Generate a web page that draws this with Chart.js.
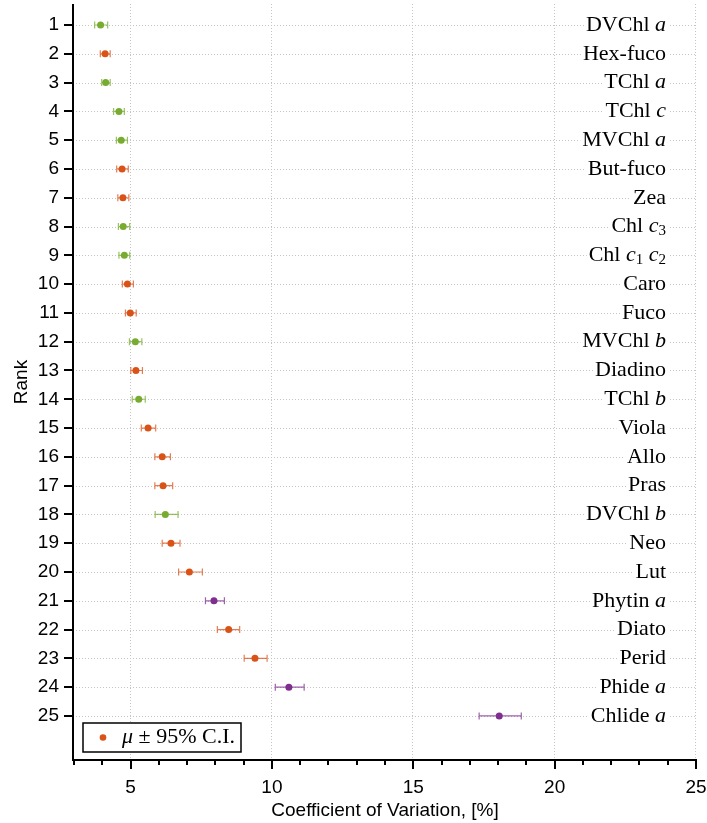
<!DOCTYPE html>
<html>
<head>
<meta charset="utf-8">
<script src="https://cdn.jsdelivr.net/npm/chart.js@4.4.1/dist/chart.umd.min.js"></script>
<style>
  html, body { margin: 0; padding: 0; background: #fff; overflow: hidden; }
  #wrap { position: relative; width: 707px; height: 823px; }
  #wrap canvas { position: absolute; left: 0; top: 0; display: block; }
</style>
</head>
<body>
<div id="wrap">
  <canvas id="gridLayer" width="707" height="823"></canvas>
  <canvas id="cvChart" width="707" height="823"></canvas>
  <canvas id="axisLayer" width="707" height="823"></canvas>
</div>
<script>
// Ranking dos pigmentos pelo coeficiente de variação (média ± IC 95%)

const pigments = ['DVChl $a$', 'Hex-fuco', 'TChl $a$', 'TChl $c$', 'MVChl $a$', 'But-fuco', 'Zea', 'Chl $c_3$', 'Chl $c_1$ $c_2$', 'Caro',
    'Fuco', 'MVChl $b$', 'Diadino', 'TChl $b$', 'Viola', 'Allo', 'Pras', 'DVChl $b$', 'Neo', 'Lut',
    'Phytin $a$', 'Diato', 'Perid', 'Phide $a$', 'Chlide $a$'];
const ranks = [1, 2, 3, 4, 5, 6, 7, 8, 9, 10, 11, 12, 13, 14, 15, 16, 17, 18, 19, 20, 21, 22, 23, 24, 25];
const pigClass = ['chl', 'car', 'chl', 'chl', 'chl', 'car', 'car', 'chl', 'chl', 'car',
    'car', 'chl', 'car', 'chl', 'car', 'car', 'car', 'chl', 'car', 'car',
    'deg', 'car', 'car', 'deg', 'deg'];
const cvMean = [3.94, 4.10, 4.12, 4.59, 4.67, 4.70, 4.73, 4.74, 4.78, 4.89,
    4.99, 5.17, 5.19, 5.29, 5.62, 6.12, 6.15, 6.23, 6.43, 7.08,
    7.95, 8.47, 9.40, 10.60, 18.04];
const ciLow = [3.73, 3.93, 3.98, 4.40, 4.50, 4.51, 4.55, 4.57, 4.59, 4.71,
    4.82, 4.96, 5.01, 5.06, 5.38, 5.86, 5.86, 5.87, 6.12, 6.70,
    7.65, 8.07, 9.02, 10.12, 17.33];
const ciHigh = [4.19, 4.28, 4.28, 4.78, 4.89, 4.92, 4.94, 4.97, 4.97, 5.10,
    5.20, 5.40, 5.42, 5.52, 5.89, 6.41, 6.49, 6.68, 6.75, 7.54,
    8.32, 8.86, 9.83, 11.14, 18.82];
const xTicks = [3, 4, 5, 6, 7, 8, 9, 10, 11, 12, 13, 14, 15, 16, 17, 18, 19, 20, 21, 22, 23, 24, 25];

const classColors = { chl: '#77ac30', car: '#d95319', deg: '#7e2f8e' };

const hexToRgba = (hex, alpha) => {
    const r = parseInt(hex.slice(1, 3), 16);
    const g = parseInt(hex.slice(3, 5), 16);
    const b = parseInt(hex.slice(5, 7), 16);
    return "rgba(" + r + ", " + g + ", " + b + ", " + alpha + ")";
};

const SERIF = '"Liberation Serif", "DejaVu Serif", serif';
const segFont = { n: '22px ' + SERIF, i: 'italic 22px ' + SERIF, s: '15px ' + SERIF };

// $...$ = trecho matemático (itálico), _d = subscrito
const parseLabel = (str) => {
    const segs = [];
    str.split('$').forEach((part, k) => {
        if (!part) return;
        if (k % 2 === 0) { segs.push({ t: part, f: 'n' }); return; }
        for (let i = 0; i < part.length; i++) {
            if (part[i] === '_') { segs.push({ t: part[i + 1], f: 's' }); i++; }
            else segs.push({ t: part[i], f: 'i' });
        }
    });
    return segs;
};

const drawRich = (ctx, segs, xRight, yMid, bg) => {
    let w = 0;
    segs.forEach(s => { ctx.font = segFont[s.f]; s.w = ctx.measureText(s.t).width; w += s.w; });
    let x = xRight - w;
    if (bg) {
        ctx.fillStyle = '#fff';
        ctx.fillRect(x - 2, yMid - 10, w + 4, 20);
    }
    ctx.fillStyle = '#000';
    ctx.textBaseline = 'middle';
    ctx.textAlign = 'left';
    segs.forEach(s => {
        ctx.font = segFont[s.f];
        ctx.fillText(s.t, x, s.f === 's' ? yMid + 5 : yMid);
        x += s.w;
    });
};

// grade pontilhada (camada de baixo)
const drawGridLayer = (chart) => {
    const g = document.getElementById('gridLayer').getContext('2d');
    const { chartArea: ca, scales: { x, y } } = chart;
    g.clearRect(0, 0, 707, 823);
    g.fillStyle = '#c4c4c4';
    ranks.forEach(r => {
        const yp = Math.round(y.getPixelForValue(r));
        for (let xx = Math.round(ca.left) + 2; xx < ca.right; xx += 3) g.fillRect(xx, yp, 1, 1);
    });
    xTicks.filter(v => v % 5 === 0).forEach(v => {
        const xp = Math.round(x.getPixelForValue(v)) - 1;
        for (let yy = Math.round(ca.top); yy < ca.bottom - 1; yy += 3) g.fillRect(xp, yy, 1, 1);
    });
};

// eixos e ticks (camada de cima)
const drawAxisLayer = (chart) => {
    const a = document.getElementById('axisLayer').getContext('2d');
    const { chartArea: ca, scales: { x, y } } = chart;
    const left = Math.round(ca.left), bottom = Math.round(ca.bottom), top = Math.round(ca.top);
    a.clearRect(0, 0, 707, 823);
    a.fillStyle = '#000';
    a.fillRect(left - 2, top, 2, bottom - top + 1);
    a.fillRect(left - 2, bottom - 1, Math.round(ca.right) - left + 3, 2);
    ranks.forEach(r => {
        a.fillRect(left - 10, Math.round(y.getPixelForValue(r)) - 1, 8, 2);
    });
    xTicks.forEach(v => {
        a.fillRect(Math.round(x.getPixelForValue(v)) - 1, bottom, 2, v % 5 === 0 ? 9 : 5);
    });
};

const cvDecor = {
    id: 'cvDecor',
    beforeDatasetsDraw(chart) {
        const { ctx, chartArea: ca, scales: { x, y } } = chart;
        ctx.save();
        ranks.forEach((r, i) => {
            drawRich(ctx, parseLabel(pigments[i]), ca.right - 30, y.getPixelForValue(r), true);
        });
        ctx.lineWidth = 1.2;
        ranks.forEach((r, i) => {
            const yp = y.getPixelForValue(r);
            const x1 = x.getPixelForValue(ciLow[i]);
            const x2 = x.getPixelForValue(ciHigh[i]);
            ctx.strokeStyle = hexToRgba(classColors[pigClass[i]], 0.75);
            ctx.beginPath();
            ctx.moveTo(x1, yp); ctx.lineTo(x2, yp);
            ctx.moveTo(x1, yp - 3.5); ctx.lineTo(x1, yp + 3.5);
            ctx.moveTo(x2, yp - 3.5); ctx.lineTo(x2, yp + 3.5);
            ctx.stroke();
        });
        ctx.restore();
    },
    afterDraw(chart) {
        const { ctx, chartArea: ca } = chart;
        // legenda
        ctx.save();
        const bx = Math.round(ca.left) + 9, by = Math.round(ca.bottom) - 37;
        ctx.fillStyle = '#fff';
        ctx.fillRect(bx, by, 158, 29);
        ctx.strokeStyle = '#000';
        ctx.lineWidth = 1.5;
        ctx.strokeRect(bx, by, 158, 29);
        ctx.fillStyle = classColors.car;
        ctx.beginPath();
        ctx.arc(bx + 20, by + 14.5, 3.3, 0, Math.PI * 2);
        ctx.fill();
        drawRich(ctx, [{ t: 'μ', f: 'i' }, { t: ' ± 95% C.I.', f: 'n' }], bx + 152, by + 14.5, false);
        ctx.restore();
        drawGridLayer(chart);
        drawAxisLayer(chart);
    }
};

Chart.defaults.font.family = '"Liberation Sans", Arial, sans-serif';
Chart.defaults.color = '#000';

const cvChart = new Chart(document.getElementById('cvChart').getContext('2d'), {
    type: 'scatter',
    data: {
        datasets: [{
            label: 'μ ± 95% C.I.',
            data: ranks.map((r, i) => ({ x: cvMean[i], y: r })),
            pointRadius: 3.5,
            pointBorderWidth: 0,
            pointBackgroundColor: pigClass.map(c => classColors[c]),
            showLine: false
        }]
    },
    options: {
        responsive: false,
        animation: false,
        layout: { padding: { top: 3, right: 11, left: 0, bottom: 0 } },
        scales: {
            x: {
                type: 'linear', min: 3, max: 25,
                afterBuildTicks: (scale) => { scale.ticks = xTicks.map(v => ({ value: v })); },
                afterFit: (scale) => { scale.height = 63; scale.paddingLeft = 0; scale.paddingRight = 0; },
                ticks: {
                    autoSkip: false, maxRotation: 0, padding: 7,
                    font: { size: 19 },
                    callback: (v) => v % 5 === 0 ? String(v) : ''
                },
                grid: { drawOnChartArea: false, color: 'transparent', tickColor: 'transparent', tickLength: 9 },
                border: { display: false },
                title: {
                    display: true, text: 'Coefficient of Variation, [%]',
                    font: { size: 19 }, padding: { top: 0, bottom: 1 }
                }
            },
            y: {
                type: 'linear', min: 0.27, max: 26.53, reverse: true,
                afterBuildTicks: (scale) => { scale.ticks = ranks.map(v => ({ value: v })); },
                afterFit: (scale) => { scale.width = 74; scale.paddingTop = 0; scale.paddingBottom = 0; },
                ticks: { autoSkip: false, padding: 7, font: { size: 19 } },
                grid: { drawOnChartArea: false, color: 'transparent', tickColor: 'transparent', tickLength: 8 },
                border: { display: false },
                title: { display: true, text: 'Rank', font: { size: 19 }, padding: { top: 10, bottom: 0 } }
            }
        },
        plugins: {
            legend: { display: false },
            tooltip: { enabled: false }
        }
    },
    plugins: [cvDecor]
});
setTimeout(() => cvChart.draw(), 200);
</script>
</body>
</html>
